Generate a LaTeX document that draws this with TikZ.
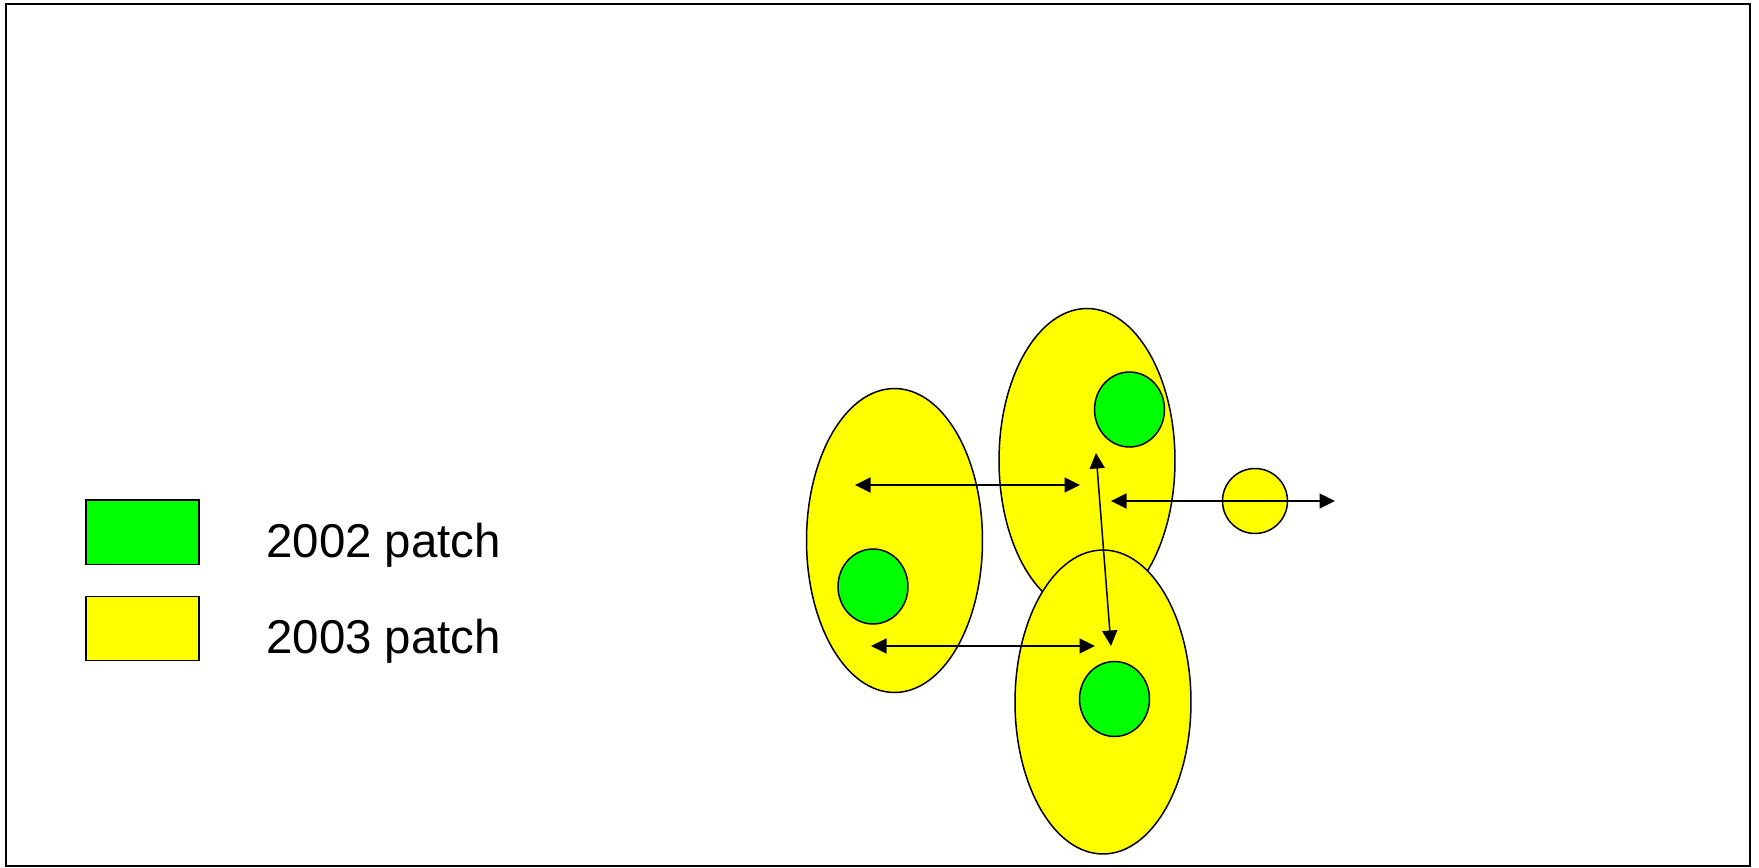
\documentclass[tikz,border=0pt]{standalone}
\usepackage{fontspec}
\setmainfont{Liberation Sans}
\usetikzlibrary{shapes.geometric,arrows.meta}
\definecolor{patchgreen}{RGB}{0,255,0}
\definecolor{patchyellow}{RGB}{255,255,0}
\begin{document}
\begin{tikzpicture}[x=0.02cm,y=-0.02cm,
    patch/.style={ellipse, draw=black, line width=0.85pt, inner sep=0pt},
    newpatch/.style={patch, fill=patchyellow, minimum width=3.52cm, minimum height=6.08cm},
    oldpatch/.style={patch, fill=patchgreen, minimum width=1.4cm, minimum height=1.5cm},
    key/.style={rectangle, draw=black, line width=0.85pt, minimum width=2.26cm, minimum height=1.29cm},
    label/.style={anchor=base west, inner sep=0pt, font=\fontsize{27}{32}\selectfont},
    link/.style={line width=0.85pt, {Triangle[length=0.31cm,width=0.3cm]}-{Triangle[length=0.31cm,width=0.3cm]}}]
  \useasboundingbox (0,0) rectangle (1759,868);
  \draw[line width=1.1pt] (6,4) rectangle (1750,866);

  % legend
  \node[key, fill=patchgreen] (key02) at (142.5,532.3) {};
  \node[key, fill=patchyellow] (key03) at (142.5,628.5) {};
  \node[label] (lab02) at (266,557) {2002 patch};
  \node[label] (lab03) at (266,653) {2003 patch};

  % patches
  \node[newpatch] (left) at (894.5,540.5) {};
  \node[newpatch] (top) at (1087,460.5) {};
  \node[newpatch] (bottom) at (1103,702) {};
  \node[patch, fill=patchyellow, minimum size=1.3cm] (small) at (1255,501) {};
  \node[oldpatch] (gtop) at (1129.5,409.5) {};
  \node[oldpatch] (gleft) at (873,586.5) {};
  \node[oldpatch] (gbottom) at (1114.5,699) {};

  % moves
  \coordinate (a1) at (855,485);
  \coordinate (b1) at (1080,485);
  \coordinate (a2) at (871,646);
  \coordinate (b2) at (1095,646);
  \coordinate (a3) at (1096,453);
  \coordinate (b3) at (1111,646);
  \coordinate (a4) at (1111,501);
  \coordinate (b4) at (1335,501);
  \draw[link] (a1) -- (b1);
  \draw[link] (a2) -- (b2);
  \draw[link] (a3) -- (b3);
  \draw[link] (a4) -- (b4);
\end{tikzpicture}
\end{document}
